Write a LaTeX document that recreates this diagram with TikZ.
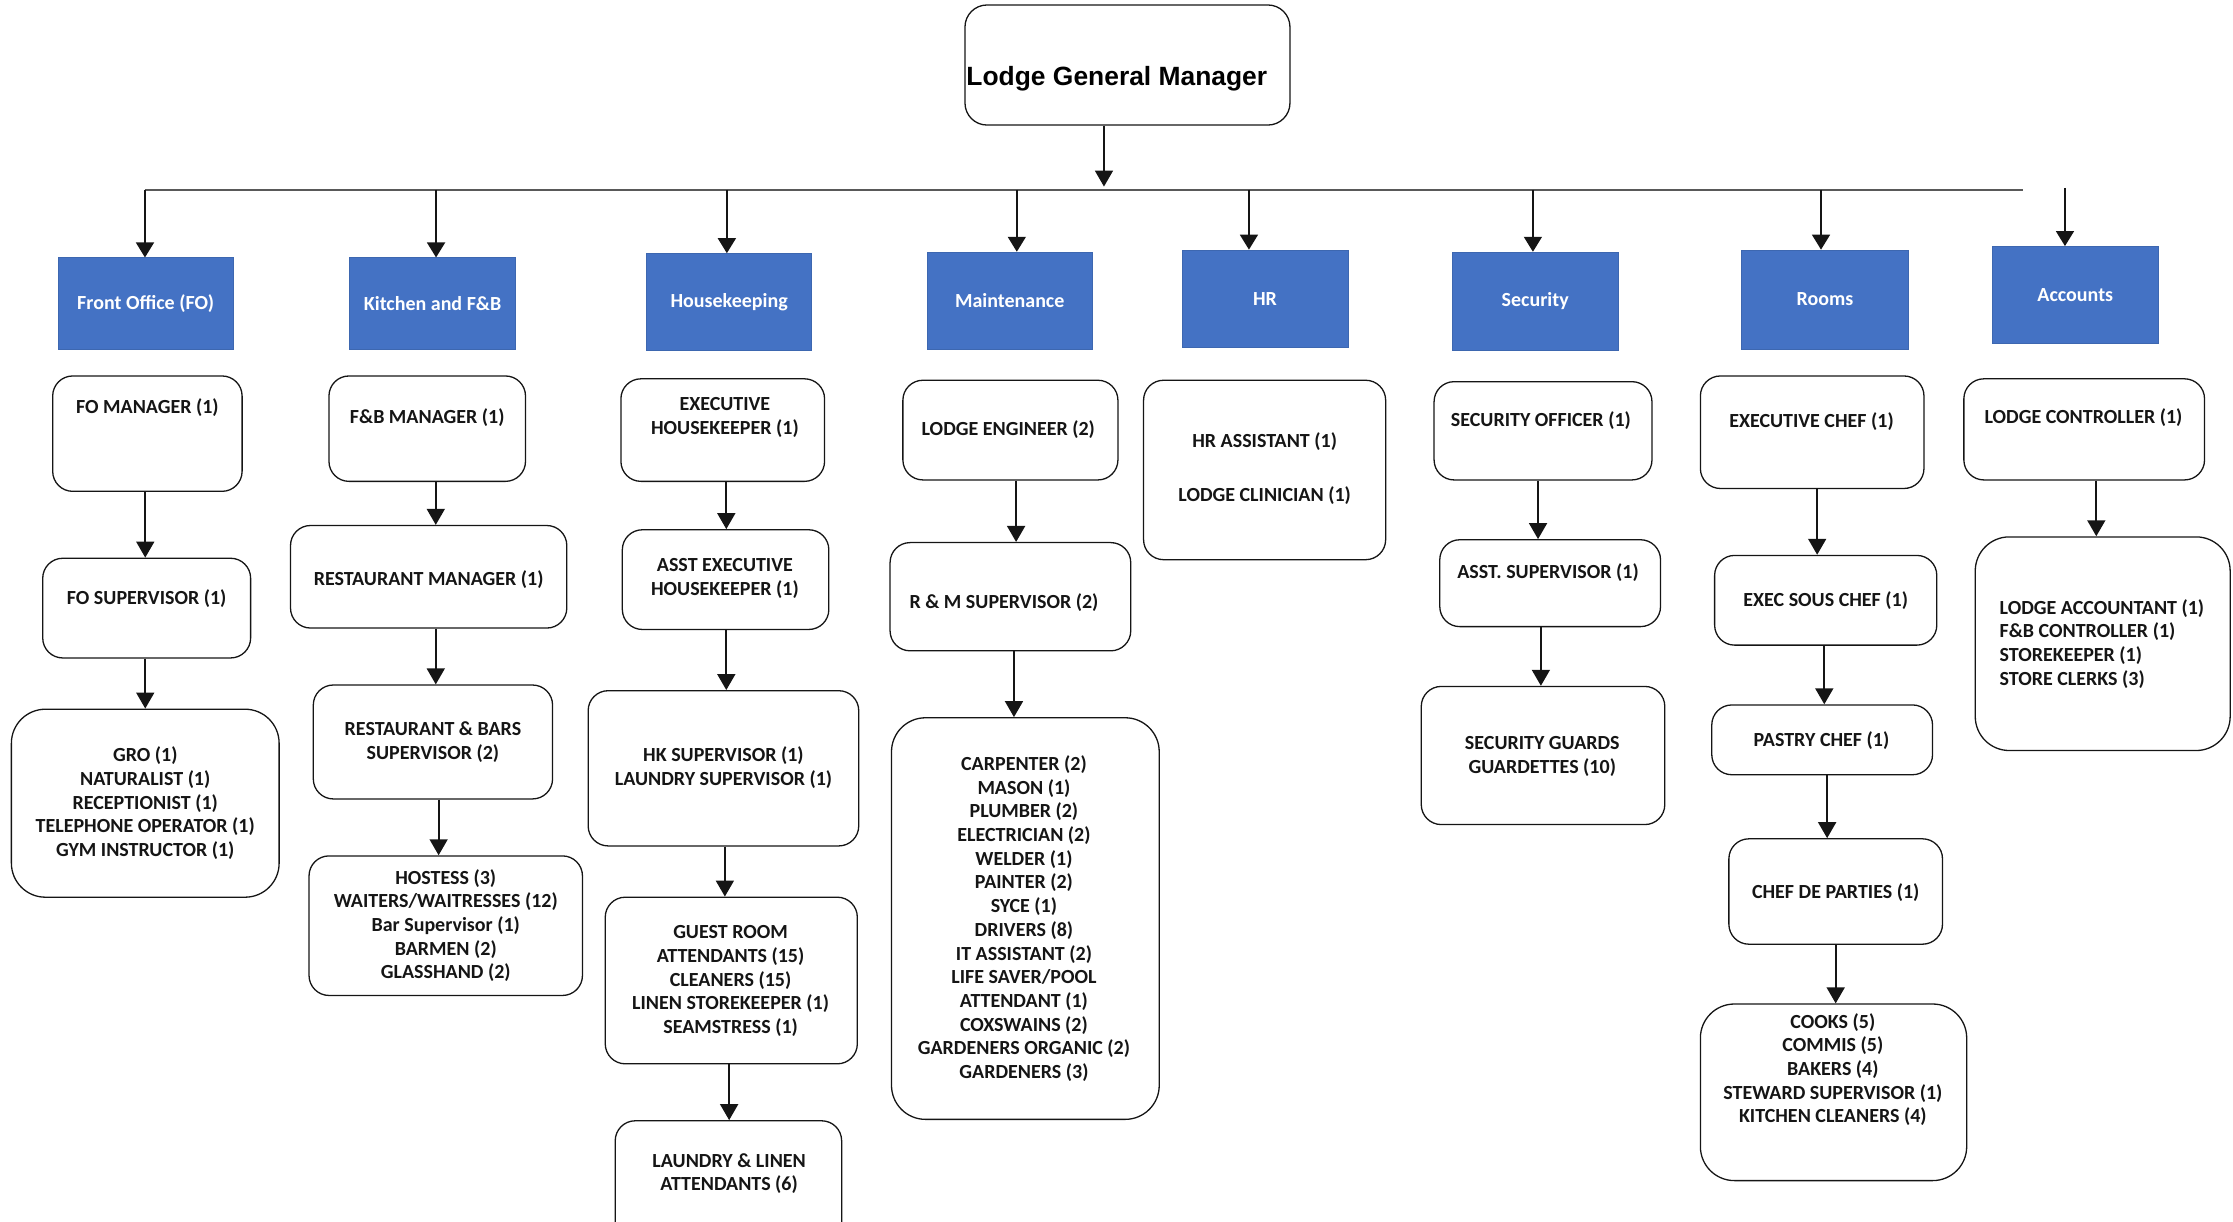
\documentclass[tikz,border=0pt]{standalone}
\usepackage{fontspec}
\setmainfont{Carlito}
\newfontfamily\arialf{Liberation Sans}
\usetikzlibrary{arrows.meta,fit}
\definecolor{deptblue}{HTML}{4472C4}
\definecolor{ink}{HTML}{151515}
\newcommand\wb[6][]{\node[wbox,#1,fit={(#3,#4)(#5,#6)}] (#2) {};}
\newcommand\bb[6]{\node[bbox,fit={(#2,#3)(#4,#5)}] (#1) {};\node[btxt] (#1-t) at (#1) {#6};}
\begin{document}
\begin{tikzpicture}[x=1.42411pt,y=-1.42411pt,
  wbox/.style={draw=ink, line width=1.3pt, rounded corners=20pt, inner sep=0pt},
  big/.style={rounded corners=34pt},
  bbox/.style={fill=deptblue, draw=deptblue!90!black, line width=0.6pt, inner sep=0pt},
  txt/.style={font=\bfseries\fontsize{20}{23.7}\selectfont, text=ink, align=center, inner sep=0pt},
  btxt/.style={font=\bfseries\fontsize{20}{24}\selectfont, text=white, inner sep=0pt},
  gtxt/.style={font=\arialf\bfseries\fontsize{26.4}{30}\selectfont, text=black, inner sep=0pt},
  arr/.style={draw=ink, line width=1.8pt, -{Triangle[width=18pt,length=16pt]}},
  darr/.style={draw=ink, line width=1.6pt, -{Triangle[width=18pt,length=15pt]}},
  hline/.style={line width=1.2pt, draw=black!65},
]
\useasboundingbox (0,0) rectangle (1568,858);

% General manager
\node[wbox, rounded corners=22pt, fit={(677.6,3.5)(905.8,87.8)}] (gm) {};
\node[gtxt, anchor=base west] (gmt) at (678.5,59.7) {Lodge General Manager};

% distribution line
\coordinate (hlL) at (101.8,133.4);
\coordinate (hlR) at (1420.6,133.4);
\draw[hline] (hlL) -- (hlR);
\coordinate (gmin) at (775.2,131);
\draw[arr] (gm.south -| gmin) -- (gmin);

% departments
\bb{fo}{41}{181}{163.5}{245}{Front Office (FO)}
\bb{kf}{245.5}{181}{362}{245}{Kitchen and F\&B}
\bb{hk}{454}{178}{570}{246}{Housekeeping}
\bb{mt}{651}{177}{767}{245}{Maintenance}
\bb{hr}{830}{175.5}{946.5}{244}{HR}
\bb{sc}{1020}{177}{1136}{246}{Security}
\bb{rm}{1223}{175.5}{1340}{245}{Rooms}
\bb{ac}{1399}{173}{1515.5}{241}{Accounts}

\coordinate (jfo) at (101.8,133.4);
\coordinate (jkf) at (306.2,133.4);
\coordinate (jhk) at (510.4,133.4);
\coordinate (jmt) at (714,133.4);
\coordinate (jhr) at (877,133.4);
\coordinate (jsc) at (1076.4,133.4);
\coordinate (jrm) at (1278.7,133.4);
\coordinate (jac) at (1450,132);
\draw[darr] (jfo) -- (jfo |- fo.north);
\draw[darr] (jkf) -- (jkf |- kf.north);
\draw[darr] (jhk) -- (jhk |- hk.north);
\draw[darr] (jmt) -- (jmt |- mt.north);
\draw[darr] (jhr) -- (jhr |- hr.north);
\draw[darr] (jsc) -- (jsc |- sc.north);
\draw[darr] (jrm) -- (jrm |- rm.north);
\draw[darr] (jac) -- (jac |- ac.north);

% Front office
\wb{fom}{37}{264}{170}{345}
\node[txt] (fom-t) at (103.5,286) {FO MANAGER (1)};
\wb{fos}{30}{392}{176}{462}
\node[txt] (fos-t) at (103,420) {FO SUPERVISOR (1)};
\wb[big]{fol}{8}{498}{196}{630}
\node[txt] (fol-t) at (102,564) {GRO (1)\\NATURALIST (1)\\RECEPTIONIST (1)\\TELEPHONE OPERATOR (1)\\GYM INSTRUCTOR (1)};

% Kitchen and F&B
\wb{fbm}{231}{264}{369}{338}
\node[txt] (fbm-t) at (300,293) {F\&B MANAGER (1)};
\wb{rsm}{204}{369}{398}{441}
\node[txt] (rsm-t) at (301,407) {RESTAURANT MANAGER (1)};
\wb{rbs}{220}{481}{388}{561}
\node[txt] (rbs-t) at (304,521) {RESTAURANT \& BARS\\SUPERVISOR (2)};
\wb{kfl}{217}{601}{409}{699}
\node[txt] (kfl-t) at (313,650) {HOSTESS (3)\\WAITERS/WAITRESSES (12)\\Bar Supervisor (1)\\BARMEN (2)\\GLASSHAND (2)};

% Housekeeping
\wb{ehk}{436}{266}{579}{338}
\node[txt] (ehk-t) at (509,293) {EXECUTIVE\\HOUSEKEEPER (1)};
\wb{aeh}{437}{372}{582}{442}
\node[txt] (aeh-t) at (509,406) {ASST EXECUTIVE\\HOUSEKEEPER (1)};
\wb{hks}{413}{485}{603}{594}
\node[txt] (hks-t) at (508,539) {HK SUPERVISOR (1)\\LAUNDRY SUPERVISOR (1)};
\wb{grm}{425}{630}{602}{747}
\node[txt] (grm-t) at (513,689) {GUEST ROOM\\ATTENDANTS (15)\\CLEANERS (15)\\LINEN STOREKEEPER (1)\\SEAMSTRESS (1)};
\wb{lla}{432}{787}{591}{885}
\node[txt] (lla-t) at (512,824) {LAUNDRY \& LINEN\\ATTENDANTS (6)};

% Maintenance
\wb{leng}{634}{267}{785}{337}
\node[txt] (leng-t) at (708,302) {LODGE ENGINEER (2)};
\wb{rms}{625}{381}{794}{457}
\node[txt] (rms-t) at (705,423) {R \& M SUPERVISOR (2)};
\wb[big]{mtl}{626}{504}{814}{786}
\node[txt] (mtl-t) at (719,645) {CARPENTER (2)\\MASON (1)\\PLUMBER (2)\\ELECTRICIAN (2)\\WELDER (1)\\PAINTER (2)\\SYCE (1)\\DRIVERS (8)\\IT ASSISTANT (2)\\LIFE SAVER/POOL\\ATTENDANT (1)\\COXSWAINS (2)\\GARDENERS ORGANIC (2)\\GARDENERS (3)};

% HR
\wb{hra}{803}{267}{973}{393}
\node[txt] (hra-t) at (888,310) {HR ASSISTANT (1)};
\node[txt] (hrc-t) at (888,348) {LODGE CLINICIAN (1)};

% Security
\wb{sco}{1007}{268}{1160}{337}
\node[txt] (sco-t) at (1082,295) {SECURITY OFFICER (1)};
\wb{ass}{1011}{379}{1166}{440}
\node[txt] (ass-t) at (1087,402) {ASST. SUPERVISOR (1)};
\wb{sgd}{998}{482}{1169}{579}
\node[txt] (sgd-t) at (1083,531) {SECURITY GUARDS\\GUARDETTES (10)};

% Rooms
\wb{exc}{1194}{264}{1351}{343}
\node[txt] (exc-t) at (1272,296) {EXECUTIVE CHEF (1)};
\wb{esc}{1204}{390}{1360}{453}
\node[txt] (esc-t) at (1282,422) {EXEC SOUS CHEF (1)};
\wb{pch}{1202}{495}{1357}{544}
\node[txt] (pch-t) at (1279,520) {PASTRY CHEF (1)};
\wb{cdp}{1214}{589}{1364}{663}
\node[txt] (cdp-t) at (1289,627) {CHEF DE PARTIES (1)};
\wb[big]{cks}{1194}{705}{1381}{829}
\node[txt] (cks-t) at (1287,751) {COOKS (5)\\COMMIS (5)\\BAKERS (4)\\STEWARD SUPERVISOR (1)\\KITCHEN CLEANERS (4)};

% Accounts
\wb{lcn}{1379}{266}{1548}{337}
\node[txt] (lcn-t) at (1463,293) {LODGE CONTROLLER (1)};
\wb[big]{acl}{1387}{377}{1566}{527}
\node[txt, align=left, anchor=west] (acl-t) at (1404,452) {LODGE ACCOUNTANT (1)\\F\&B CONTROLLER (1)\\STOREKEEPER (1)\\STORE CLERKS (3)};

% reporting arrows
\foreach \a/\b/\x in {fom/fos/102,fos/fol/102,fbm/rsm/306,rsm/rbs/306,rbs/kfl/308,
  ehk/aeh/510,aeh/hks/510,hks/grm/509,grm/lla/512,leng/rms/713.5,rms/mtl/712,
  sco/ass/1080,ass/sgd/1082,exc/esc/1276,esc/pch/1281,pch/cdp/1283,cdp/cks/1289,lcn/acl/1472}{
  \coordinate (x-\a) at (\x,0);
  \draw[arr] (\a.south -| x-\a) -- (\b.north -| x-\a);
}
\end{tikzpicture}
\end{document}
